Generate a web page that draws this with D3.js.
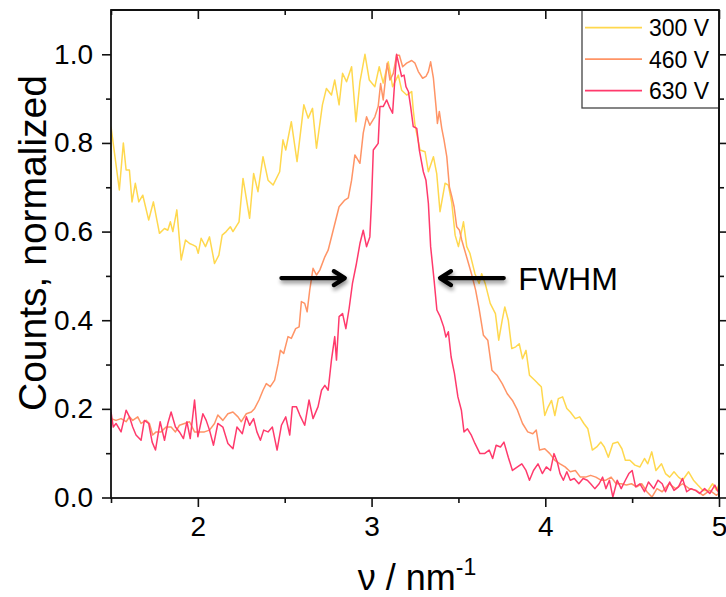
<!DOCTYPE html>
<html>
<head>
<meta charset="utf-8">
<script src="https://cdn.jsdelivr.net/npm/d3@7"></script>
<style>
  html, body { margin: 0; padding: 0; background: #fff; }
  svg { display: block; }
  text { font-family: "Liberation Sans", Arial, sans-serif; fill: #000; }
</style>
</head>
<body>
<svg id="chart" width="726" height="597"></svg>
<script>
// ---------------- data ----------------
const nu300 = [1.500,1.548,1.571,1.587,1.606,1.621,1.640,1.660,1.683,1.717,1.744,1.779,1.808,1.827,1.842,1.856,1.879,1.904,1.929,1.952,1.971,1.990,2.002,2.019,2.044,2.067,2.096,2.121,2.140,2.163,2.187,2.202,2.237,2.260,2.298,2.321,2.346,2.375,2.404,2.433,2.471,2.490,2.506,2.538,2.571,2.610,2.635,2.660,2.683,2.717,2.740,2.769,2.788,2.813,2.833,2.856,2.885,2.910,2.933,2.962,2.987,3.019,3.044,3.067,3.096,3.121,3.154,3.173,3.202,3.231,3.240,3.250,3.279,3.308,3.327,3.356,3.375,3.394,3.423,3.442,3.462,3.481,3.500,3.529,3.548,3.566,3.595,3.619,3.634,3.654,3.683,3.713,3.732,3.752,3.767,3.787,3.807,3.830,3.850,3.869,3.889,3.909,3.938,3.958,3.977,3.997,4.016,4.036,4.055,4.075,4.100,4.124,4.144,4.173,4.198,4.222,4.245,4.271,4.296,4.320,4.340,4.363,4.389,4.418,4.441,4.461,4.487,4.516,4.545,4.571,4.590,4.613,4.637,4.669,4.692,4.716,4.741,4.767,4.790,4.825,4.853,4.878,4.908,4.937,4.963,4.986,5.000];
const counts300 = [0.837,0.694,0.800,0.739,0.739,0.667,0.709,0.667,0.682,0.626,0.667,0.596,0.607,0.603,0.622,0.600,0.649,0.536,0.581,0.573,0.570,0.566,0.551,0.585,0.566,0.588,0.528,0.547,0.592,0.600,0.611,0.600,0.622,0.720,0.630,0.731,0.690,0.769,0.716,0.705,0.735,0.807,0.784,0.848,0.758,0.886,0.856,0.878,0.788,0.886,0.923,0.908,0.942,0.886,0.957,0.938,0.972,0.848,0.938,1.000,0.942,0.927,0.972,0.935,0.983,0.927,0.953,0.919,0.908,0.916,0.874,0.840,0.784,0.780,0.735,0.769,0.731,0.645,0.709,0.705,0.664,0.592,0.566,0.622,0.566,0.551,0.505,0.483,0.505,0.483,0.438,0.415,0.355,0.400,0.430,0.400,0.336,0.340,0.347,0.313,0.332,0.276,0.265,0.257,0.250,0.185,0.204,0.219,0.185,0.223,0.227,0.201,0.193,0.178,0.182,0.167,0.155,0.107,0.114,0.125,0.114,0.091,0.122,0.125,0.110,0.084,0.084,0.073,0.069,0.088,0.076,0.103,0.061,0.076,0.054,0.046,0.058,0.046,0.039,0.058,0.039,0.028,0.016,0.016,0.031,0.016,0.030];

const nu460 = [1.500,1.529,1.558,1.587,1.606,1.625,1.654,1.673,1.702,1.721,1.740,1.760,1.788,1.817,1.846,1.871,1.894,1.923,1.952,1.981,2.010,2.038,2.067,2.096,2.115,2.144,2.173,2.202,2.231,2.250,2.279,2.308,2.327,2.352,2.375,2.394,2.417,2.442,2.462,2.475,2.494,2.519,2.538,2.563,2.583,2.596,2.615,2.629,2.644,2.663,2.683,2.702,2.731,2.750,2.779,2.813,2.846,2.866,2.885,2.904,2.933,2.952,2.971,2.990,3.019,3.038,3.052,3.067,3.090,3.106,3.125,3.144,3.160,3.179,3.202,3.231,3.250,3.269,3.294,3.313,3.327,3.340,3.356,3.371,3.379,3.390,3.404,3.417,3.433,3.448,3.462,3.475,3.490,3.506,3.519,3.536,3.575,3.599,3.619,3.644,3.669,3.693,3.722,3.752,3.781,3.811,3.840,3.869,3.899,3.928,3.948,3.967,3.997,4.026,4.055,4.085,4.114,4.144,4.173,4.202,4.232,4.261,4.291,4.320,4.349,4.379,4.408,4.437,4.467,4.496,4.526,4.555,4.585,4.614,4.643,4.673,4.712,4.751,4.790,4.829,4.869,4.908,4.947,4.986,5.000];
const counts460 = [0.178,0.174,0.178,0.171,0.182,0.174,0.182,0.167,0.174,0.167,0.141,0.148,0.148,0.159,0.159,0.148,0.163,0.167,0.171,0.148,0.148,0.148,0.152,0.167,0.186,0.174,0.189,0.193,0.182,0.171,0.189,0.193,0.201,0.220,0.242,0.257,0.250,0.265,0.302,0.332,0.325,0.363,0.359,0.381,0.385,0.442,0.438,0.419,0.468,0.517,0.502,0.513,0.543,0.558,0.603,0.656,0.671,0.676,0.716,0.773,0.754,0.822,0.859,0.840,0.859,0.882,0.934,0.897,0.980,0.942,0.957,0.998,0.998,0.972,0.980,0.986,0.980,0.961,0.946,0.950,0.961,0.983,0.946,0.882,0.844,0.871,0.833,0.807,0.769,0.701,0.679,0.656,0.611,0.603,0.581,0.558,0.505,0.468,0.426,0.366,0.355,0.287,0.276,0.257,0.234,0.219,0.197,0.167,0.148,0.144,0.152,0.107,0.110,0.099,0.084,0.076,0.069,0.058,0.061,0.046,0.046,0.050,0.046,0.039,0.039,0.046,0.031,0.031,0.028,0.031,0.024,0.031,0.013,0.001,0.020,0.013,0.031,0.020,0.031,0.020,0.016,0.005,0.016,0.005,0.010];

const nu630 = [1.500,1.513,1.529,1.558,1.587,1.606,1.625,1.644,1.673,1.692,1.717,1.737,1.756,1.783,1.808,1.827,1.846,1.871,1.894,1.917,1.937,1.956,1.981,2.000,2.029,2.048,2.067,2.090,2.115,2.144,2.173,2.202,2.225,2.256,2.279,2.298,2.321,2.340,2.360,2.379,2.404,2.429,2.456,2.481,2.506,2.529,2.544,2.567,2.587,2.615,2.640,2.663,2.692,2.712,2.731,2.750,2.769,2.788,2.798,2.813,2.833,2.852,2.871,2.890,2.913,2.933,2.952,2.971,2.990,3.000,3.010,3.025,3.038,3.048,3.067,3.087,3.102,3.121,3.135,3.144,3.160,3.173,3.187,3.198,3.212,3.225,3.240,3.260,3.275,3.298,3.313,3.327,3.340,3.360,3.376,3.395,3.415,3.428,3.442,3.458,3.477,3.497,3.517,3.532,3.552,3.575,3.595,3.624,3.650,3.677,3.697,3.717,3.742,3.762,3.787,3.811,3.840,3.865,3.889,3.909,3.932,3.958,3.983,4.006,4.030,4.050,4.069,4.085,4.104,4.124,4.144,4.167,4.193,4.218,4.242,4.261,4.285,4.310,4.330,4.349,4.369,4.389,4.414,4.437,4.461,4.481,4.500,4.520,4.545,4.571,4.594,4.624,4.649,4.673,4.692,4.716,4.741,4.767,4.790,4.814,4.839,4.865,4.888,4.917,4.947,4.976,5.000];
const counts630 = [0.193,0.159,0.167,0.148,0.197,0.182,0.159,0.141,0.129,0.174,0.167,0.125,0.107,0.171,0.129,0.167,0.193,0.159,0.148,0.133,0.171,0.133,0.220,0.137,0.189,0.174,0.152,0.118,0.167,0.159,0.122,0.110,0.159,0.144,0.182,0.163,0.178,0.148,0.129,0.152,0.148,0.159,0.107,0.163,0.182,0.141,0.205,0.205,0.186,0.163,0.220,0.178,0.205,0.242,0.253,0.242,0.310,0.363,0.310,0.408,0.415,0.381,0.427,0.483,0.528,0.573,0.603,0.566,0.588,0.671,0.784,0.792,0.799,0.882,0.882,0.897,0.882,0.867,0.950,1.000,0.972,0.950,0.953,0.927,0.916,0.882,0.837,0.833,0.784,0.735,0.716,0.664,0.566,0.490,0.423,0.408,0.385,0.362,0.374,0.317,0.280,0.227,0.197,0.148,0.155,0.140,0.122,0.099,0.099,0.107,0.088,0.118,0.114,0.125,0.091,0.061,0.069,0.076,0.061,0.039,0.061,0.076,0.054,0.069,0.061,0.099,0.080,0.054,0.039,0.058,0.039,0.043,0.031,0.043,0.039,0.031,0.020,0.031,0.046,0.020,0.039,0.001,0.039,0.020,0.039,0.054,0.061,0.024,0.031,0.013,0.035,0.020,0.039,0.031,0.013,0.035,0.016,0.024,0.043,0.013,0.020,0.016,0.009,0.020,0.009,0.028,0.009];

const seriesNames = ["300 V", "460 V", "630 V"];
const seriesColors = ["#FFD84E", "#FF9466", "#FF3A6C"];
const xMajorTicks = [2, 3, 4, 5];
const xMinorTicks = [1.5, 2.5, 3.5, 4.5];
const yMajorTicks = [0.0, 0.2, 0.4, 0.6, 0.8, 1.0];
const yMinorTicks = [0.1, 0.3, 0.5, 0.7, 0.9];
const fwhmLevel = 0.495;
const arrowLeft = [2.481, 2.846];   // tail, head
const arrowRight = [3.761, 3.394];  // tail, head
const fwhmLabelX = 3.845;

// ---------------- layout ----------------
const svg = d3.select("#chart");
const pL = 111, pR = 719, pT = 10, pB = 498;
const x = d3.scaleLinear().domain([1.5, 5]).range([pL, pR]);
const yv = d3.scaleLinear().domain([0, 1]).range([497.5, 54.3]);

const defs = svg.append("defs");
defs.append("clipPath").attr("id", "clip")
  .append("rect").attr("x", pL).attr("y", pT).attr("width", pR - pL).attr("height", pB - pT);
const f = defs.append("filter").attr("id", "shadow").attr("x", "-20%").attr("y", "-80%").attr("width", "140%").attr("height", "260%");
f.append("feGaussianBlur").attr("in", "SourceAlpha").attr("stdDeviation", 2.2).attr("result", "b");
f.append("feOffset").attr("in", "b").attr("dx", 1).attr("dy", 3).attr("result", "o");
f.append("feComponentTransfer").attr("in", "o").attr("result", "o2")
  .append("feFuncA").attr("type", "linear").attr("slope", 0.45);
const fm = f.append("feMerge");
fm.append("feMergeNode").attr("in", "o2");
fm.append("feMergeNode").attr("in", "SourceGraphic");

// ---------------- curves ----------------
const series = [
  { nu: nu300, c: counts300 },
  { nu: nu460, c: counts460 },
  { nu: nu630, c: counts630 }
];
const line = d3.line().x(d => x(d[0])).y(d => yv(d[1]));
const g = svg.append("g").attr("clip-path", "url(#clip)");
series.forEach((s, i) => {
  g.append("path")
    .datum(d3.zip(s.nu, s.c))
    .attr("d", line)
    .attr("fill", "none")
    .attr("stroke", seriesColors[i])
    .attr("stroke-width", 1.5)
    .attr("stroke-linejoin", "round");
});

// ---------------- axes ----------------
const fontTick = 28;
svg.append("g").attr("transform", `translate(0,${pB})`)
  .call(d3.axisBottom(x).tickValues(xMajorTicks).tickSize(9).tickPadding(9).tickFormat(d3.format("d")));
svg.append("g").attr("transform", `translate(0,${pB})`)
  .call(d3.axisBottom(x).tickValues(xMinorTicks).tickSize(5).tickFormat(""));
svg.append("g").attr("transform", `translate(0,${pT})`)
  .call(d3.axisBottom(x).tickValues(xMajorTicks).tickSize(9).tickFormat(""));
svg.append("g").attr("transform", `translate(0,${pT})`)
  .call(d3.axisBottom(x).tickValues(xMinorTicks).tickSize(5).tickFormat(""));
svg.append("g").attr("transform", `translate(${pL},0)`)
  .call(d3.axisLeft(yv).tickValues(yMajorTicks).tickSize(9).tickPadding(9).tickFormat(d3.format(".1f")));
svg.append("g").attr("transform", `translate(${pL},0)`)
  .call(d3.axisLeft(yv).tickValues(yMinorTicks).tickSize(5).tickFormat(""));
svg.append("g").attr("transform", `translate(${pR},0)`)
  .call(d3.axisLeft(yv).tickValues(yMajorTicks).tickSize(-9).tickFormat(""));
svg.append("g").attr("transform", `translate(${pR},0)`)
  .call(d3.axisLeft(yv).tickValues(yMinorTicks).tickSize(-5).tickFormat(""));

svg.selectAll(".domain").remove();
svg.selectAll(".tick line").attr("stroke", "#111").attr("stroke-width", 1.6);
svg.selectAll(".tick text").attr("font-size", fontTick).attr("fill", "#111")
  .style("font-family", '"Liberation Sans", Arial, sans-serif');

// frame
svg.append("rect").attr("x", pL).attr("y", pT).attr("width", pR - pL).attr("height", pB - pT)
  .attr("fill", "none").attr("stroke", "#111").attr("stroke-width", 1.8);

// axis titles
svg.append("text")
  .attr("transform", `translate(46,243) rotate(-90)`)
  .attr("text-anchor", "middle")
  .attr("font-size", 39)
  .text("Counts, normalized");
const xt = svg.append("text")
  .attr("x", (pL + pR) / 2 + 2).attr("y", 590)
  .attr("text-anchor", "middle")
  .attr("font-size", 36);
xt.append("tspan").text("ν / nm");
xt.append("tspan").attr("dy", -15).attr("font-size", 23).text("-1");

// ---------------- FWHM arrows ----------------
function arrow(x0, x1, yy) {
  const dir = Math.sign(x1 - x0);
  const p = d3.path();
  p.moveTo(x0, yy); p.lineTo(x1 - dir * 2, yy);
  p.moveTo(x1 - dir * 11, yy - 7); p.lineTo(x1, yy); p.lineTo(x1 - dir * 11, yy + 7);
  svg.append("path").attr("d", p.toString())
    .attr("fill", "none").attr("stroke", "#000").attr("stroke-width", 4.2)
    .attr("stroke-linecap", "round").attr("stroke-linejoin", "round")
    .attr("filter", "url(#shadow)");
}
arrow(x(arrowLeft[0]), x(arrowLeft[1]), yv(fwhmLevel));
arrow(x(arrowRight[0]), x(arrowRight[1]), yv(fwhmLevel));
svg.append("text").attr("x", x(fwhmLabelX)).attr("y", yv(fwhmLevel) + 12)
  .attr("font-size", 32).text("FWHM");

// ---------------- legend ----------------
const lg = svg.append("g");
lg.append("rect").attr("x", 582).attr("y", pT).attr("width", pR - 582).attr("height", 98)
  .attr("fill", "#fff").attr("stroke", "#444").attr("stroke-width", 1.3);
seriesNames.forEach((n, i) => {
  const yy = 27.7 + i * 31.5;
  lg.append("line").attr("x1", 585).attr("x2", 642).attr("y1", yy).attr("y2", yy)
    .attr("stroke", seriesColors[i]).attr("stroke-width", 1.8);
  lg.append("text").attr("x", 649).attr("y", yy + 8.5).attr("font-size", 23).text(n);
});
svg.append("line").attr("x1", pL).attr("x2", pR).attr("y1", pT).attr("y2", pT).attr("stroke", "#111").attr("stroke-width", 1.8);
svg.append("line").attr("x1", pR).attr("x2", pR).attr("y1", pT).attr("y2", pB).attr("stroke", "#111").attr("stroke-width", 1.8);
</script>
</body>
</html>
